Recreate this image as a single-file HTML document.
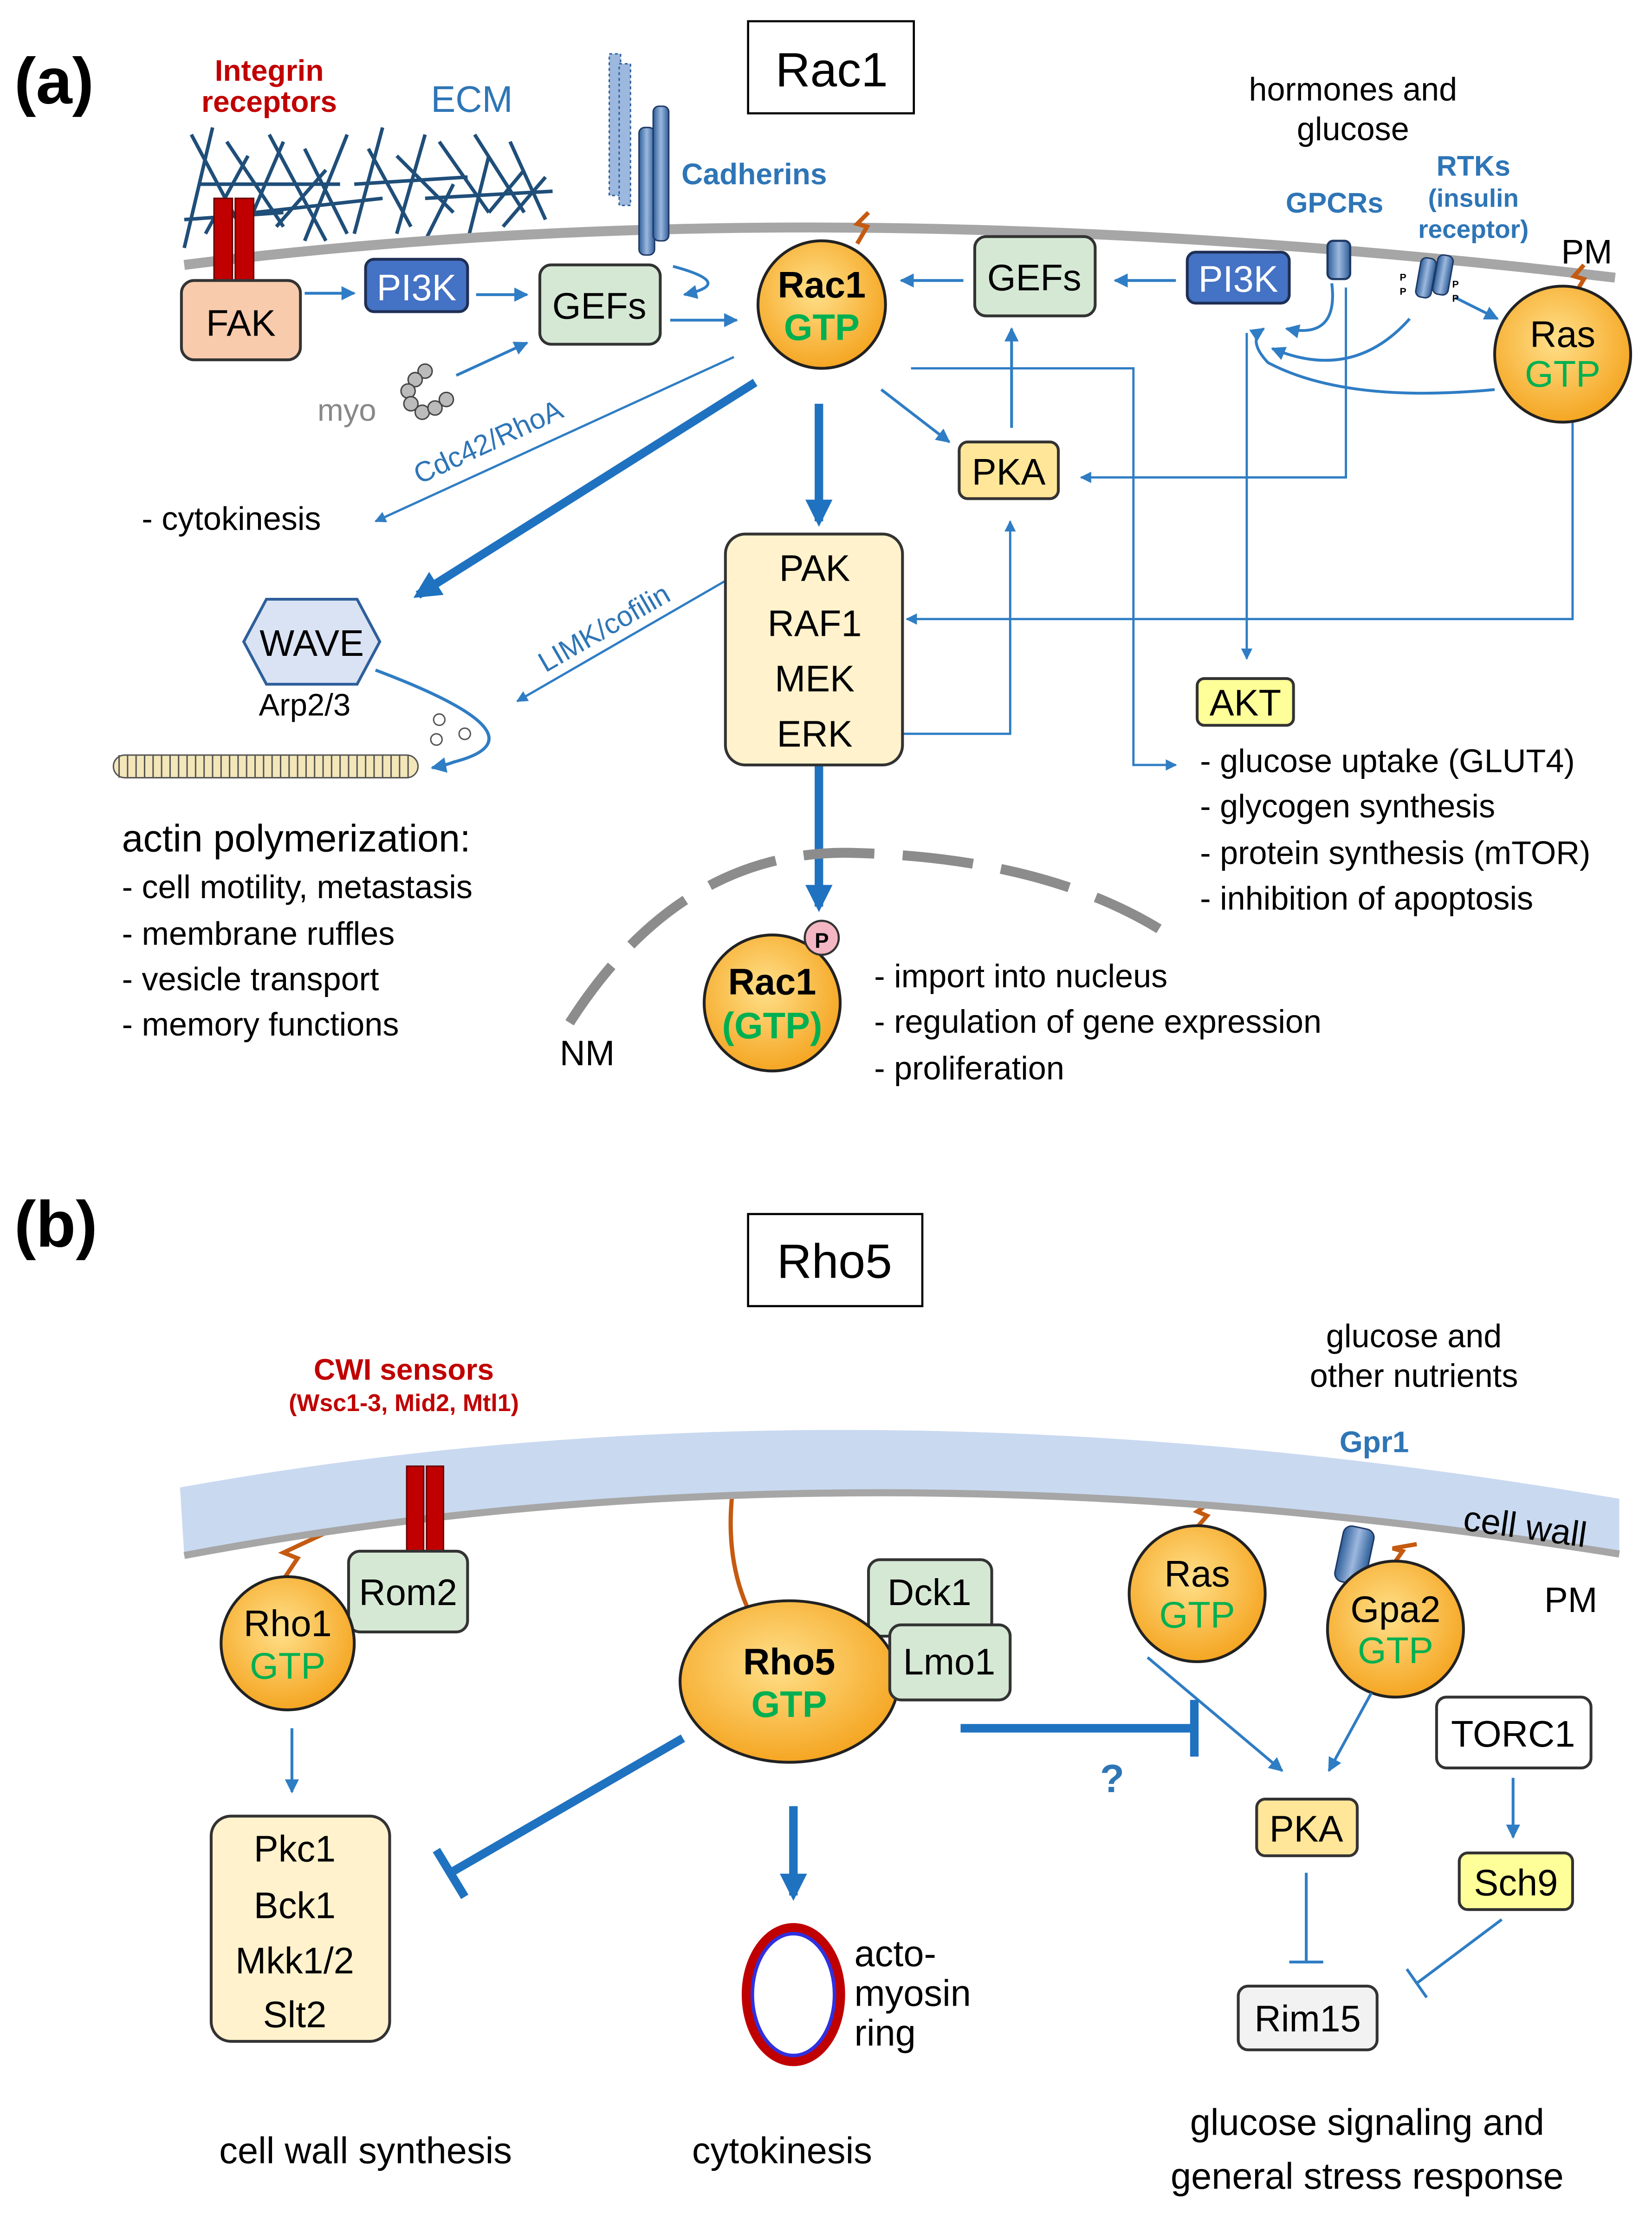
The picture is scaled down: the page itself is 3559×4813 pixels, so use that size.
<!DOCTYPE html>
<html><head><meta charset="utf-8"><style>
html,body{margin:0;padding:0;background:#fff}
svg{display:block}
text{font-family:"Liberation Sans",sans-serif}
</style></head><body>
<svg width="3559" height="4813" viewBox="0 0 1166 1577" xmlns="http://www.w3.org/2000/svg">
<defs>
<marker id="a" viewBox="0 0 10 10" refX="9" refY="5" markerWidth="5" markerHeight="5" orient="auto"><path d="M0,0L10,5L0,10z" fill="#2f7dc4"/></marker>
<marker id="b" viewBox="0 0 10 10" refX="8" refY="5" markerWidth="3.2" markerHeight="3.2" orient="auto"><path d="M0,0L10,5L0,10z" fill="#1f72c0"/></marker>
<radialGradient id="o" cx="45%" cy="40%" r="60%"><stop offset="0" stop-color="#ffe08a"/><stop offset="1" stop-color="#f5a623"/></radialGradient>
<linearGradient id="cyl" x1="0" x2="1"><stop offset="0" stop-color="#2e5f9a"/><stop offset=".5" stop-color="#9db8de"/><stop offset="1" stop-color="#2e5f9a"/></linearGradient>
</defs>
<g fill="none" stroke="#2f7dc4" stroke-width="1.6">
<g stroke="#1f4e79" stroke-width="2.5">
<path d="M135,95L175,170M150,90L130,175M160,100L200,160M175,110L145,165M190,95L230,170M200,100L170,170M215,105L245,165M230,120L195,160M245,95L215,170M260,105L290,160M270,90L250,165M280,110L320,150M300,95L280,165M310,100L345,150M320,130L300,170M335,95L370,150M345,110L330,170M360,100L385,155M370,120L345,150M385,125L355,160M140,130L240,130M180,150L270,140M250,130L330,125M300,140L390,135M130,155L200,150"/>
</g>
<path d="M130,187Q580,130 1140,196" stroke="#a6a6a6" stroke-width="7"/>
<path d="M215,207L250,207" marker-end="url(#a)" stroke-width="2"/>
<path d="M336,208L372,208" marker-end="url(#a)" stroke-width="2"/>
<path d="M322,265L372,242" marker-end="url(#a)" stroke-width="2"/>
<path d="M473,226L520,226" marker-end="url(#a)" stroke-width="2"/>
<path d="M475,188Q520,200 483,208" marker-end="url(#a)" stroke-width="2"/>
<path d="M680,198L636,198" marker-end="url(#a)" stroke-width="2"/>
<path d="M830,198L787,198" marker-end="url(#a)" stroke-width="2"/>
<path d="M714,302L714,232" marker-end="url(#a)" stroke-width="2"/>
<path d="M622,275L670,312" marker-end="url(#a)" stroke-width="2"/>
<path d="M518,252L265,368" marker-end="url(#a)"/>
<path d="M940,200Q945,240 908,232" marker-end="url(#a)" stroke-width="2"/>
<path d="M995,225Q955,270 898,246" marker-end="url(#a)" stroke-width="2"/>
<path d="M1055,275Q950,285 895,256Q880,240 892,232" marker-end="url(#a)" stroke-width="2"/>
<path d="M1027,210L1057,225" marker-end="url(#a)" stroke-width="2"/>
<path d="M950,203L950,337L763,337" marker-end="url(#a)"/>
<path d="M880,235L880,465" marker-end="url(#a)"/>
<path d="M643,260L800,260L800,540L830,540" marker-end="url(#a)"/>
<path d="M1110,295L1110,437L640,437" marker-end="url(#a)"/>
<path d="M610,518L713,518L713,368" marker-end="url(#a)"/>
<path d="M512,410L365,495" marker-end="url(#a)"/>
<path d="M265,473Q390,520 320,538Q315,540 305,542" marker-end="url(#a)" stroke-width="2.2"/>
<path d="M533,270L295,420" stroke="#1f72c0" stroke-width="6" marker-end="url(#b)"/>
<path d="M578,285L578,368" stroke="#1f72c0" stroke-width="6" marker-end="url(#b)"/>
<path d="M578,540L578,640" stroke="#1f72c0" stroke-width="6" marker-end="url(#b)"/>
<path d="M402,722Q480,600 600,602Q740,605 825,660" stroke="#8c8c8c" stroke-width="7" stroke-dasharray="50,20"/>
</g>
<rect x="151" y="140" width="13" height="62" fill="#c00000" stroke="#600" stroke-width="1"/>
<rect x="166" y="140" width="13" height="62" fill="#c00000" stroke="#600" stroke-width="1"/>
<rect x="430" y="38" width="8" height="100" fill="#9db8de" stroke="#2e5f9a" stroke-dasharray="2,2"/>
<rect x="437" y="45" width="8" height="100" fill="#9db8de" stroke="#2e5f9a" stroke-dasharray="2,2"/>
<rect x="451" y="90" width="11" height="90" rx="4" fill="url(#cyl)" stroke="#1f3864"/>
<rect x="461" y="75" width="11" height="95" rx="4" fill="url(#cyl)" stroke="#1f3864"/>
<rect x="937" y="170" width="16" height="27" rx="4" fill="url(#cyl)" stroke="#1f3864" stroke-width="1.5"/>
<rect x="1001" y="182" width="11" height="28" rx="4" fill="url(#cyl)" stroke="#1f3864" transform="rotate(10 1006 196)"/>
<rect x="1013" y="180" width="11" height="28" rx="4" fill="url(#cyl)" stroke="#1f3864" transform="rotate(10 1018 194)"/>
<text x="988" y="198" font-size="7" font-weight="bold">P</text><text x="988" y="208" font-size="7" font-weight="bold">P</text>
<text x="1025" y="203" font-size="7" font-weight="bold">P</text><text x="1025" y="213" font-size="7" font-weight="bold">P</text>
<g fill="none" stroke="#c55a11" stroke-width="3">
<path d="M605,172L612,160L605,158L613,150"/>
<path d="M1112,207L1118,197L1111,195L1118,187"/>
<path d="M200,1115L210,1100L200,1096L230,1082"/>
<path d="M530,1140Q510,1100 518,1045"/>
<path d="M845,1078L852,1070L845,1067L855,1060"/>
<path d="M983,1105L990,1095L983,1093L1000,1090"/>
</g>
<rect x="528" y="15" width="117" height="65" fill="#fff" stroke="#000" stroke-width="1.5"/>
<text x="587" y="61" font-size="34" text-anchor="middle">Rac1</text>
<rect x="128" y="198" width="84" height="56" rx="9" fill="#f8cbad" stroke="#333" stroke-width="2"/>
<text x="170" y="237" font-size="26" text-anchor="middle">FAK</text>
<rect x="258" y="183" width="72" height="37" rx="6" fill="#4472c4" stroke="#1f2f55" stroke-width="2"/>
<text x="294" y="212" font-size="26" text-anchor="middle" fill="#fff">PI3K</text>
<rect x="838" y="178" width="72" height="36" rx="6" fill="#4472c4" stroke="#1f2f55" stroke-width="2"/>
<text x="874" y="206" font-size="26" text-anchor="middle" fill="#fff">PI3K</text>
<rect x="381" y="187" width="85" height="56" rx="8" fill="#d5e8d4" stroke="#333" stroke-width="2"/>
<text x="423" y="225" font-size="26" text-anchor="middle">GEFs</text>
<rect x="688" y="167" width="85" height="56" rx="8" fill="#d5e8d4" stroke="#333" stroke-width="2"/>
<text x="730" y="205" font-size="26" text-anchor="middle">GEFs</text>
<circle cx="580" cy="215" r="45" fill="url(#o)" stroke="#222" stroke-width="2"/>
<text x="580" y="210" font-size="26" font-weight="bold" text-anchor="middle">Rac1</text>
<text x="580" y="240" font-size="26" font-weight="bold" text-anchor="middle" fill="#00b050">GTP</text>
<circle cx="1103" cy="250" r="48" fill="url(#o)" stroke="#222" stroke-width="2"/>
<text x="1103" y="245" font-size="26" text-anchor="middle">Ras</text>
<text x="1103" y="273" font-size="26" text-anchor="middle" fill="#00b050">GTP</text>
<rect x="677" y="312" width="70" height="40" rx="6" fill="#ffe699" stroke="#333" stroke-width="2"/>
<text x="712" y="342" font-size="26" text-anchor="middle">PKA</text>
<rect x="512" y="377" width="125" height="163" rx="14" fill="#fff2cc" stroke="#333" stroke-width="2"/>
<g font-size="26" text-anchor="middle"><text x="575" y="410">PAK</text><text x="575" y="449">RAF1</text><text x="575" y="488">MEK</text><text x="575" y="527">ERK</text></g>
<rect x="845" y="479" width="68" height="33" rx="5" fill="#ffff99" stroke="#333" stroke-width="2"/>
<text x="879" y="505" font-size="26" text-anchor="middle">AKT</text>
<polygon points="188,423 252,423 268,453 252,483 188,483 172,453" fill="#dae3f3" stroke="#2e5f9a" stroke-width="2"/>
<text x="220" y="463" font-size="26" text-anchor="middle">WAVE</text>
<text x="215" y="505" font-size="22" text-anchor="middle">Arp2/3</text>
<g fill="#fff2cc" stroke="#555" stroke-width="1">
<rect x="80" y="533" width="215" height="16" rx="8" fill="#f3e6b8"/>
<path d="M84,533v16M90,533v16M96,533v16M102,533v16M108,533v16M114,533v16M120,533v16M126,533v16M132,533v16M138,533v16M144,533v16M150,533v16M156,533v16M162,533v16M168,533v16M174,533v16M180,533v16M186,533v16M192,533v16M198,533v16M204,533v16M210,533v16M216,533v16M222,533v16M228,533v16M234,533v16M240,533v16M246,533v16M252,533v16M258,533v16M264,533v16M270,533v16M276,533v16M282,533v16M288,533v16" fill="none"/>
<circle cx="310" cy="508" r="4" fill="#fff"/><circle cx="308" cy="522" r="4" fill="#fff"/><circle cx="328" cy="518" r="4" fill="#fff"/>
</g>
<g fill="#bbb" stroke="#444" stroke-width="1"><circle cx="300" cy="262" r="5"/><circle cx="293" cy="268" r="5"/><circle cx="288" cy="276" r="5"/><circle cx="290" cy="285" r="5"/><circle cx="298" cy="291" r="5"/><circle cx="307" cy="288" r="5"/><circle cx="315" cy="282" r="5"/></g>
<text x="224" y="297" font-size="22" fill="#888">myo</text>
<text x="10" y="73" font-size="46" font-weight="bold">(a)</text>
<text x="190" y="57" font-size="21" font-weight="bold" fill="#c00000" text-anchor="middle">Integrin</text>
<text x="190" y="79" font-size="21" font-weight="bold" fill="#c00000" text-anchor="middle">receptors</text>
<text x="333" y="79" font-size="26" fill="#2e75b6" text-anchor="middle">ECM</text>
<text x="481" y="130" font-size="21" font-weight="bold" fill="#2e75b6">Cadherins</text>
<text x="955" y="71" font-size="23" text-anchor="middle">hormones and</text>
<text x="955" y="99" font-size="23" text-anchor="middle">glucose</text>
<text x="942" y="150" font-size="20" font-weight="bold" fill="#2e75b6" text-anchor="middle">GPCRs</text>
<text x="1040" y="124" font-size="20" font-weight="bold" fill="#2e75b6" text-anchor="middle">RTKs</text>
<text x="1040" y="146" font-size="18" font-weight="bold" fill="#2e75b6" text-anchor="middle">(insulin</text>
<text x="1040" y="168" font-size="18" font-weight="bold" fill="#2e75b6" text-anchor="middle">receptor)</text>
<text x="1102" y="186" font-size="24">PM</text>
<text x="296" y="342" font-size="20" fill="#2e75b6" transform="rotate(-25 296 342)">Cdc42/RhoA</text>
<text x="385" y="475" font-size="20" fill="#2e75b6" transform="rotate(-30 385 475)">LIMK/cofilin</text>
<text x="100" y="374" font-size="23">- cytokinesis</text>
<g font-size="23"><text x="847" y="545">- glucose uptake (GLUT4)</text><text x="847" y="577">- glycogen synthesis</text><text x="847" y="610">- protein synthesis (mTOR)</text><text x="847" y="642">- inhibition of apoptosis</text>
<text x="86" y="601" font-size="27">actin polymerization:</text>
<text x="86" y="634">- cell motility, metastasis</text><text x="86" y="667">- membrane ruffles</text><text x="86" y="699">- vesicle transport</text><text x="86" y="731">- memory functions</text>
<text x="617" y="697">- import into nucleus</text><text x="617" y="729">- regulation of gene expression</text><text x="617" y="762">- proliferation</text></g>
<text x="395" y="752" font-size="25">NM</text>
<circle cx="545" cy="708" r="48" fill="url(#o)" stroke="#222" stroke-width="2"/>
<text x="545" y="702" font-size="26" font-weight="bold" text-anchor="middle">Rac1</text>
<text x="545" y="733" font-size="26" font-weight="bold" text-anchor="middle" fill="#00b050">(GTP)</text>
<circle cx="580" cy="662" r="12" fill="#f4b6c2" stroke="#333" stroke-width="1.5"/>
<text x="580" y="669" font-size="15" font-weight="bold" text-anchor="middle">P</text>

<text x="10" y="880" font-size="46" font-weight="bold">(b)</text>
<rect x="528" y="857" width="123" height="65" fill="#fff" stroke="#000" stroke-width="1.5"/>
<text x="589" y="902" font-size="34" text-anchor="middle">Rho5</text>
<text x="998" y="951" font-size="23" text-anchor="middle">glucose and</text>
<text x="998" y="979" font-size="23" text-anchor="middle">other nutrients</text>
<text x="285" y="974" font-size="21" font-weight="bold" fill="#c00000" text-anchor="middle">CWI sensors</text>
<text x="285" y="996" font-size="17" font-weight="bold" fill="#c00000" text-anchor="middle">(Wsc1-3, Mid2, Mtl1)</text>
<path d="M127,1050Q600,965 1143,1058L1143,1097Q600,1010 130,1098Z" fill="#c9d9f0"/>
<path d="M130,1098Q600,1010 1143,1097" fill="none" stroke="#a6a6a6" stroke-width="5"/>
<text x="970" y="1025" font-size="21" font-weight="bold" fill="#2e75b6" text-anchor="middle">Gpr1</text>
<text x="1032" y="1080" font-size="25" transform="rotate(8 1032 1080)">cell wall</text>
<text x="1090" y="1138" font-size="25">PM</text>
<rect x="287" y="1035" width="12" height="62" fill="#c00000" stroke="#600"/>
<rect x="301" y="1035" width="12" height="62" fill="#c00000" stroke="#600"/>
<rect x="945" y="1078" width="22" height="40" rx="6" fill="url(#cyl)" stroke="#1f3864" transform="rotate(12 956 1098)"/>
<rect x="246" y="1095" width="84" height="57" rx="8" fill="#d5e8d4" stroke="#333" stroke-width="2"/>
<text x="288" y="1133" font-size="26" text-anchor="middle">Rom2</text>
<circle cx="203" cy="1160" r="47" fill="url(#o)" stroke="#222" stroke-width="2"/>
<text x="203" y="1155" font-size="26" text-anchor="middle">Rho1</text>
<text x="203" y="1185" font-size="26" text-anchor="middle" fill="#00b050">GTP</text>
<rect x="613" y="1101" width="87" height="54" rx="8" fill="#d5e8d4" stroke="#333" stroke-width="2"/>
<text x="656" y="1133" font-size="26" text-anchor="middle">Dck1</text>
<ellipse cx="557" cy="1187" rx="77" ry="57" fill="url(#o)" stroke="#222" stroke-width="2"/>
<rect x="628" y="1147" width="85" height="53" rx="8" fill="#d5e8d4" stroke="#333" stroke-width="2"/>
<text x="670" y="1182" font-size="26" text-anchor="middle">Lmo1</text>
<text x="557" y="1182" font-size="26" font-weight="bold" text-anchor="middle">Rho5</text>
<text x="557" y="1212" font-size="26" font-weight="bold" text-anchor="middle" fill="#00b050">GTP</text>
<circle cx="845" cy="1125" r="48" fill="url(#o)" stroke="#222" stroke-width="2"/>
<text x="845" y="1120" font-size="26" text-anchor="middle">Ras</text>
<text x="845" y="1149" font-size="26" text-anchor="middle" fill="#00b050">GTP</text>
<circle cx="985" cy="1150" r="48" fill="url(#o)" stroke="#222" stroke-width="2"/>
<text x="985" y="1145" font-size="26" text-anchor="middle">Gpa2</text>
<text x="985" y="1174" font-size="26" text-anchor="middle" fill="#00b050">GTP</text>
<rect x="1014" y="1198" width="109" height="50" rx="7" fill="#fff" stroke="#333" stroke-width="2"/>
<text x="1068" y="1233" font-size="26" text-anchor="middle">TORC1</text>
<rect x="887" y="1270" width="71" height="40" rx="6" fill="#ffe699" stroke="#333" stroke-width="2"/>
<text x="922" y="1300" font-size="26" text-anchor="middle">PKA</text>
<rect x="1030" y="1308" width="80" height="40" rx="6" fill="#ffff99" stroke="#333" stroke-width="2"/>
<text x="1070" y="1338" font-size="26" text-anchor="middle">Sch9</text>
<rect x="874" y="1402" width="98" height="45" rx="7" fill="#f2f2f2" stroke="#333" stroke-width="2"/>
<text x="923" y="1434" font-size="26" text-anchor="middle">Rim15</text>
<rect x="149" y="1282" width="126" height="159" rx="14" fill="#fff2cc" stroke="#333" stroke-width="2"/>
<g font-size="26" text-anchor="middle"><text x="208" y="1314">Pkc1</text><text x="208" y="1354">Bck1</text><text x="208" y="1393">Mkk1/2</text><text x="208" y="1431">Slt2</text></g>
<ellipse cx="560" cy="1408" rx="33" ry="47" fill="none" stroke="#c00000" stroke-width="7"/>
<ellipse cx="560" cy="1408" rx="29" ry="43" fill="none" stroke="#3030e0" stroke-width="2.5"/>
<g font-size="26"><text x="603" y="1388">acto-</text><text x="603" y="1416">myosin</text><text x="603" y="1444">ring</text></g>
<g font-size="26" text-anchor="middle"><text x="258" y="1527">cell wall synthesis</text><text x="552" y="1527">cytokinesis</text><text x="965" y="1507">glucose signaling and</text><text x="965" y="1545">general stress response</text></g>
<text x="785" y="1265" font-size="28" font-weight="bold" fill="#2e75b6" text-anchor="middle">?</text>
<g fill="none" stroke="#2f7dc4" stroke-width="2">
<path d="M206,1220L206,1265" marker-end="url(#a)"/>
<path d="M810,1170L905,1250" marker-end="url(#a)"/>
<path d="M968,1195L938,1250" marker-end="url(#a)"/>
<path d="M1068,1255L1068,1297" marker-end="url(#a)"/>
<path d="M922,1322L922,1385M910,1385L934,1385"/>
<path d="M1060,1355L1000,1400M993,1390L1007,1410"/>
<g stroke="#1f72c0" stroke-width="6">
<path d="M482,1227L318,1322M308,1306L328,1339"/>
<path d="M678,1220L840,1220M843,1200L843,1240"/>
<path d="M560,1275L560,1338" marker-end="url(#b)"/>
</g>
</g>
</svg>
</body></html>
